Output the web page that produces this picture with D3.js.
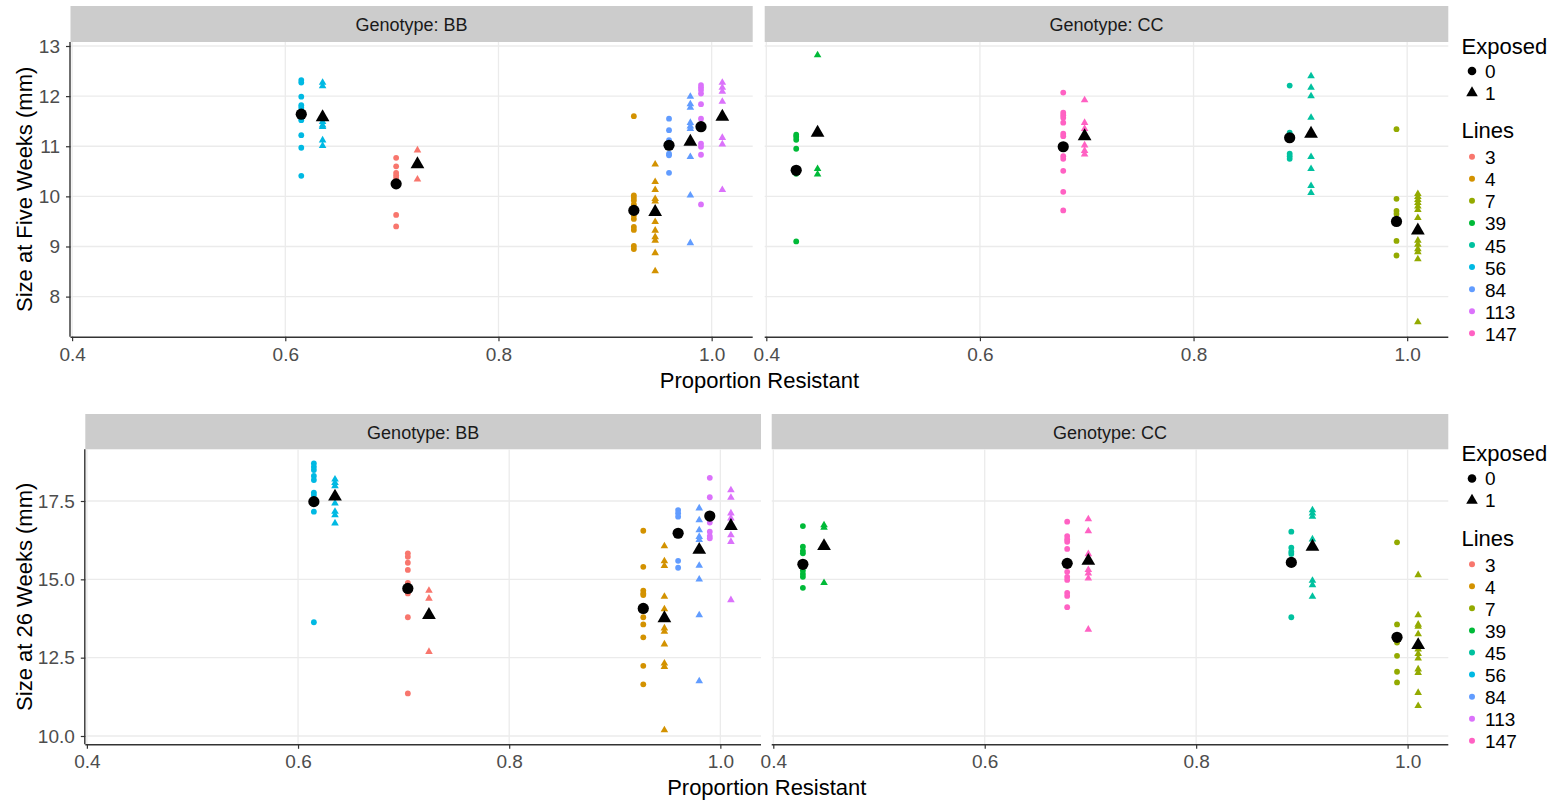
<!DOCTYPE html>
<html><head><meta charset="utf-8">
<script src="https://cdn.jsdelivr.net/npm/d3@7"></script>
<style>
html,body{margin:0;padding:0;background:#fff;}
svg{display:block;font-family:"Liberation Sans",Arial,sans-serif;}
</style></head>
<body>
<svg id="chart" width="1557" height="802"></svg>
<script>
// ---------------- DATA ----------------
const lineLevels = ["3","4","7","39","45","56","84","113","147"];
const lineColors = ["#F8766D","#D39200","#93AA00","#00BA38","#00C19F","#00B9E3","#619CFF","#DB72FB","#FF61C3"];
const exposedLevels = ["0","1"];
const genotypes = ["BB","CC"];
const lineGenotype = {"3":"BB","4":"BB","56":"BB","84":"BB","113":"BB","7":"CC","39":"CC","45":"CC","147":"CC"};
const propResistant = {"3":0.714,"4":0.937,"7":1.0,"39":0.438,"45":0.90,"56":0.625,"84":0.97,"113":1.0,"147":0.688};
const xTicks = [0.4,0.6,0.8,1.0];
const yTicksFive = [8,9,10,11,12,13];
const yTicks26 = [10.0,12.5,15.0,17.5];

// Size at five weeks, unexposed (Exposed = 0)
const five_exp0 = {
  "56":[12.32,12.27,11.99,11.82,11.77,11.65,11.57,11.52,11.22,10.97,10.41],
  "3":[10.77,10.60,10.47,10.42,10.37,10.25,9.63,9.40],
  "4":[11.60,10.02,9.97,9.92,9.84,9.75,9.62,9.55,9.39,9.33,9.01,8.95],
  "84":[11.55,11.32,11.12,11.02,10.85,10.82,10.47],
  "113":[12.22,12.17,12.12,12.05,11.84,11.55,11.05,10.99,10.83,9.84],
  "39":[11.23,11.19,11.13,10.95,10.52,10.45,9.10],
  "147":[12.07,11.67,11.62,11.57,11.47,11.25,11.20,10.99,10.80,10.75,10.51,10.09,9.72],
  "45":[12.21,11.27,11.17,10.85,10.80,10.75],
  "7":[11.34,9.95,9.71,9.65,9.50,9.11,8.82]
};
// Size at five weeks, exposed (Exposed = 1)
const five_exp1 = {
  "56":[12.27,12.20,11.58,11.49,11.42,11.39,11.12,11.01],
  "3":[10.92,10.66,10.34],
  "4":[10.64,10.29,10.13,9.95,9.90,9.69,9.49,9.32,9.19,9.12,8.87,8.51],
  "84":[11.99,11.84,11.77,11.47,11.40,11.35,11.09,10.79,10.02,9.07],
  "113":[12.27,12.17,12.09,11.89,11.59,11.17,11.04,10.13],
  "39":[12.82,11.27,10.55,10.44],
  "147":[11.92,11.47,11.35,11.20,11.02,10.91,10.84],
  "45":[12.40,12.17,12.00,11.57,11.25,10.79,10.55,10.21,10.07],
  "7":[10.05,9.99,9.93,9.87,9.80,9.73,9.57,9.32,9.12,9.04,8.95,8.89,8.75,7.49]
};
const five_mean0 = {"56":11.64,"3":10.25,"4":9.72,"84":11.02,"113":11.39,"39":10.52,"147":10.99,"45":11.17,"7":9.50};
const five_mean1 = {"56":11.58,"3":10.64,"4":9.69,"84":11.09,"113":11.59,"39":11.27,"147":11.20,"45":11.25,"7":9.32};

// Size at 26 weeks
const wk26_exp0 = {
  "56":[18.70,18.59,18.49,18.30,18.17,17.77,17.69,17.48,17.16,13.63],
  "3":[15.83,15.72,15.53,15.30,14.89,14.71,14.55,13.79,11.36],
  "4":[16.55,15.40,14.64,14.55,14.50,14.07,13.79,13.56,13.15,12.24,11.65],
  "84":[17.21,17.11,17.00,16.47,15.59,15.37],
  "113":[18.24,17.62,17.02,16.81,16.52,16.38,16.31],
  "39":[16.70,16.04,15.91,15.83,15.48,15.28,15.17,15.08,14.73],
  "147":[16.84,16.38,16.28,16.20,15.97,15.51,15.24,15.08,14.98,14.57,14.47,14.11],
  "45":[16.52,16.01,15.88,15.81,15.54,13.79],
  "7":[16.18,13.56,13.15,12.98,12.56,12.05,11.71]
};
const wk26_exp1 = {
  "56":[18.19,18.08,17.98,17.64,17.43,17.16,17.05,16.79],
  "3":[14.64,14.39,13.80,12.69],
  "4":[16.06,15.58,15.43,14.45,14.05,13.76,13.44,13.33,12.93,12.32,12.21,10.19],
  "84":[17.27,16.89,16.57,16.36,16.26,15.94,15.44,15.00,13.86,11.75],
  "113":[17.85,17.61,17.11,16.95,16.70,16.41,16.20,14.34],
  "39":[16.73,16.65,16.06,14.89],
  "147":[16.92,16.54,15.81,15.59,15.30,15.19,15.03,13.40],
  "45":[17.21,17.11,17.00,16.28,16.04,14.96,14.82,14.45],
  "7":[15.14,13.86,13.56,13.49,13.25,12.90,12.77,12.62,12.48,12.13,12.02,11.38,10.96]
};
const wk26_mean0 = {"56":17.48,"3":14.71,"4":14.07,"84":16.47,"113":17.02,"39":15.48,"147":15.51,"45":15.54,"7":13.15};
const wk26_mean1 = {"56":17.64,"3":13.86,"4":13.76,"84":15.94,"113":16.70,"39":16.06,"147":15.59,"45":16.04,"7":12.90};

// ---------------- LAYOUT ----------------
const svg = d3.select("#chart");
const color = d3.scaleOrdinal().domain(lineLevels).range(lineColors);
const dodge = {"0":-0.01,"1":0.01};
const xDomain = [0.3985, 1.0385];

const rows = [
  {stripTop:6, top:42, bottom:336.7, panels:[[70.5,752.7],[764.7,1448.3]],
   yDomain:[7.2,13.08], yTicks:yTicksFive, yFmt:d3.format("d"),
   title:"Size at Five Weeks (mm)", raw:[five_exp0,five_exp1], means:[five_mean0,five_mean1], legendDy:0},
  {stripTop:414, top:449.3, bottom:744.3, panels:[[85.3,761],[771.7,1448.3]],
   yDomain:[9.735,19.15], yTicks:yTicks26, yFmt:d3.format(".1f"),
   title:"Size at 26 Weeks (mm)", raw:[wk26_exp0,wk26_exp1], means:[wk26_mean0,wk26_mean1], legendDy:407.5}
];

const triSmall = d3.symbol().type(d3.symbolTriangle).size(25);
const triBig = d3.symbol().type(d3.symbolTriangle).size(82);

rows.forEach(row => {
  const y = d3.scaleLinear().domain(row.yDomain).range([row.bottom, row.top]);
  genotypes.forEach((g, gi) => {
    const [x0, x1] = row.panels[gi];
    const x = d3.scaleLinear().domain(xDomain).range([x0, x1]);
    const gp = svg.append("g");
    // strip
    gp.append("rect").attr("x", x0).attr("y", row.stripTop).attr("width", x1 - x0)
      .attr("height", row.top - row.stripTop).attr("fill", "#CCCCCC");
    gp.append("text").attr("x", (x0 + x1) / 2).attr("y", (row.stripTop + row.top) / 2 + 1)
      .attr("text-anchor", "middle").attr("dominant-baseline", "central")
      .attr("font-size", "18px").attr("fill", "#1A1A1A").text("Genotype: " + g);
    // grid
    gp.selectAll(".gy").data(row.yTicks).enter().append("line")
      .attr("x1", x0).attr("x2", x1).attr("y1", d => y(d)).attr("y2", d => y(d))
      .attr("stroke", "#EBEBEB").attr("stroke-width", 1.3);
    gp.selectAll(".gx").data(xTicks).enter().append("line")
      .attr("x1", d => x(d)).attr("x2", d => x(d)).attr("y1", row.top).attr("y2", row.bottom)
      .attr("stroke", "#EBEBEB").attr("stroke-width", 1.3);
    // x axis
    const xAxis = d3.axisBottom(x).tickValues(xTicks).tickFormat(d3.format(".1f")).tickSize(4.5).tickPadding(6);
    const xa = gp.append("g").attr("transform", `translate(0,${row.bottom})`).call(xAxis);
    xa.select(".domain").attr("d", `M${x0},0.5H${x1}`).attr("stroke", "#333").attr("stroke-width", 1.4);
    xa.selectAll(".tick line").attr("stroke", "#333").attr("stroke-width", 1.2);
    xa.selectAll(".tick text").attr("font-size", "19px").attr("fill", "#4D4D4D")
      .attr("font-family", "Liberation Sans, Arial, sans-serif");
    // y axis on left panel only
    if (gi === 0) {
      const yAxis = d3.axisLeft(y).tickValues(row.yTicks).tickFormat(row.yFmt).tickSize(4.5).tickPadding(6);
      const ya = gp.append("g").attr("transform", `translate(${x0},0)`).call(yAxis);
      ya.select(".domain").attr("d", `M-0.5,${row.top}V${row.bottom}`).attr("stroke", "#333").attr("stroke-width", 1.4);
      ya.selectAll(".tick line").attr("stroke", "#333").attr("stroke-width", 1.2);
      ya.selectAll(".tick text").attr("font-size", "19px").attr("fill", "#4D4D4D")
        .attr("font-family", "Liberation Sans, Arial, sans-serif");
    }
    // raw points
    exposedLevels.forEach((e, ei) => {
      const src = row.raw[ei];
      const pts = [];
      lineLevels.filter(l => lineGenotype[l] === g).forEach(l => {
        src[l].forEach(v => pts.push({line:l, v:v, px:propResistant[l] + dodge[e]}));
      });
      if (e === "0") {
        gp.selectAll(null).data(pts).enter().append("circle")
          .attr("cx", d => x(d.px)).attr("cy", d => y(d.v)).attr("r", 2.9)
          .attr("fill", d => color(d.line));
      } else {
        gp.selectAll(null).data(pts).enter().append("path")
          .attr("d", triSmall).attr("transform", d => `translate(${x(d.px)},${y(d.v)})`)
          .attr("fill", d => color(d.line));
      }
    });
    // means
    exposedLevels.forEach((e, ei) => {
      const src = row.means[ei];
      const pts = lineLevels.filter(l => lineGenotype[l] === g)
        .map(l => ({line:l, v:src[l], px:propResistant[l] + dodge[e]}));
      if (e === "0") {
        gp.selectAll(null).data(pts).enter().append("circle")
          .attr("cx", d => x(d.px)).attr("cy", d => y(d.v)).attr("r", 5.6).attr("fill", "#000");
      } else {
        gp.selectAll(null).data(pts).enter().append("path")
          .attr("d", triBig).attr("transform", d => `translate(${x(d.px)},${y(d.v)})`).attr("fill", "#000");
      }
    });
  });
  // axis titles
  const pl = row.panels[0][0], pr = row.panels[1][1];
  svg.append("text").attr("x", (pl + pr) / 2).attr("y", row.bottom + 51)
    .attr("text-anchor", "middle").attr("font-size", "22px").attr("fill", "#000").text("Proportion Resistant");
  svg.append("text").attr("transform", `translate(32,${(row.top + row.bottom) / 2}) rotate(-90)`)
    .attr("text-anchor", "middle").attr("font-size", "22px").attr("fill", "#000").text(row.title);
  // legend
  const lg = svg.append("g").attr("transform", `translate(0,${row.legendDy})`);
  lg.append("text").attr("x", 1461.5).attr("y", 53.5).attr("font-size", "22px").attr("fill", "#000").text("Exposed");
  const eRows = [71, 93];
  exposedLevels.forEach((e, i) => {
    if (e === "0") lg.append("circle").attr("cx", 1472).attr("cy", eRows[i]).attr("r", 4.3).attr("fill", "#000");
    else lg.append("path").attr("d", d3.symbol().type(d3.symbolTriangle).size(58))
      .attr("transform", `translate(1472,${eRows[i]})`).attr("fill", "#000");
    lg.append("text").attr("x", 1485).attr("y", eRows[i]).attr("dominant-baseline", "central")
      .attr("font-size", "19px").attr("fill", "#000").text(e);
  });
  lg.append("text").attr("x", 1461.5).attr("y", 138.3).attr("font-size", "22px").attr("fill", "#000").text("Lines");
  lineLevels.forEach((l, i) => {
    const cy = 156.7 + i * 22.08;
    lg.append("circle").attr("cx", 1472).attr("cy", cy).attr("r", 3).attr("fill", color(l));
    lg.append("text").attr("x", 1485).attr("y", cy + 1).attr("dominant-baseline", "central")
      .attr("font-size", "19px").attr("fill", "#000").text(l);
  });
});
</script>
</body></html>
